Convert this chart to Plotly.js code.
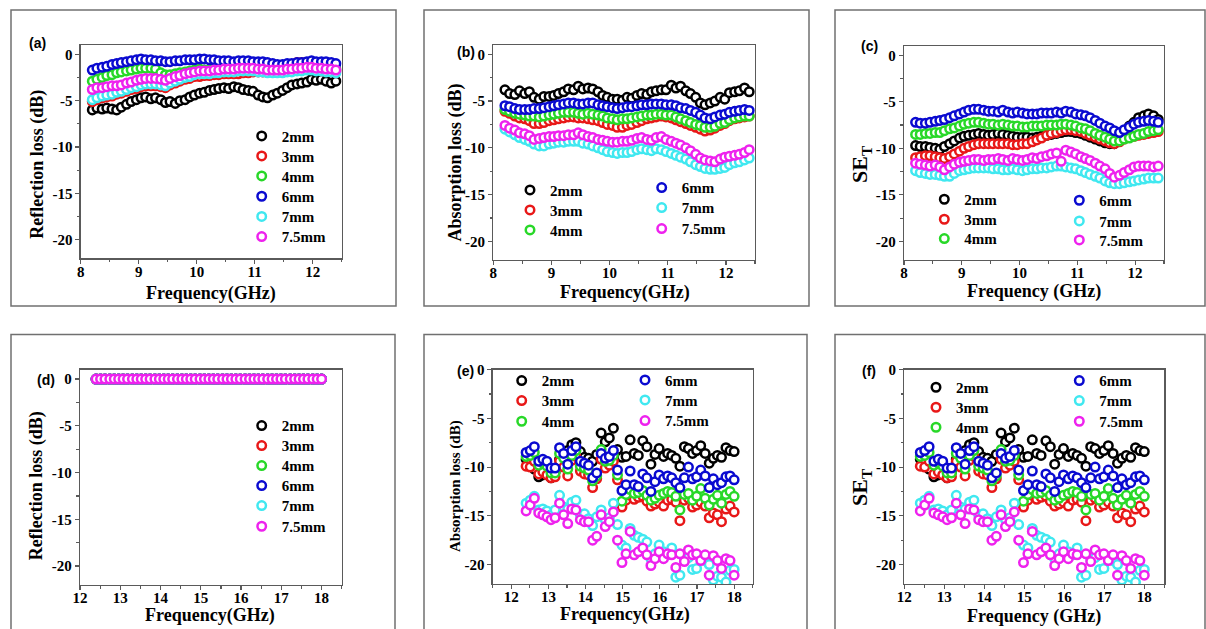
<!DOCTYPE html>
<html><head><meta charset="utf-8">
<script src="https://cdn.plot.ly/plotly-3.0.1.min.js"></script>
<style>html,body{margin:0;padding:0;background:#fff}#chart{width:1206px;height:629px}</style>
</head><body><div id="chart"></div>
<script>
const W = 1206, H = 629;

// ---------- frequencies ----------
const freqX = [8.20,8.28,8.37,8.45,8.54,8.62,8.70,8.79,8.87,8.96,9.04,9.12,9.21,9.29,9.38,9.46,9.54,9.63,9.71,9.80,9.88,9.96,10.05,10.13,10.22,10.30,10.38,10.47,10.55,10.64,10.72,10.80,10.89,10.97,11.06,11.14,11.22,11.31,11.39,11.48,11.56,11.64,11.73,11.81,11.90,11.98,12.06,12.15,12.23,12.32,12.40];
const freqKu = [12.40,12.51,12.62,12.74,12.85,12.96,13.07,13.18,13.30,13.41,13.52,13.63,13.74,13.86,13.97,14.08,14.19,14.30,14.42,14.53,14.64,14.75,14.86,14.98,15.09,15.20,15.31,15.42,15.54,15.65,15.76,15.87,15.98,16.10,16.21,16.32,16.43,16.54,16.66,16.77,16.88,16.99,17.10,17.22,17.33,17.44,17.55,17.66,17.78,17.89,18.00];

// ---------- (a) reflection loss, X band ----------
const rlX_2mm = [-6.0,-5.8,-5.9,-5.8,-5.9,-6.0,-5.7,-5.4,-5.1,-4.9,-4.7,-4.6,-4.8,-4.7,-4.9,-5.2,-5.1,-5.3,-5.0,-4.9,-4.6,-4.4,-4.2,-4.1,-3.9,-3.8,-3.7,-3.6,-3.7,-3.5,-3.6,-3.8,-3.9,-4.0,-4.4,-4.6,-4.7,-4.4,-4.2,-3.9,-3.6,-3.3,-3.2,-3.1,-3.0,-2.7,-2.8,-2.7,-2.9,-3.1,-2.9];
const rlX_3mm = [-5.1,-4.9,-4.7,-4.6,-4.5,-4.3,-4.2,-4.0,-3.8,-3.7,-3.5,-3.4,-3.4,-3.4,-3.5,-3.6,-3.3,-3.1,-2.9,-2.7,-2.6,-2.4,-2.4,-2.3,-2.3,-2.2,-2.2,-2.1,-2.1,-2.1,-2.1,-2.0,-2.0,-1.9,-1.9,-1.9,-1.9,-1.8,-1.7,-1.5,-1.3,-1.1,-0.9,-0.9,-1.1,-1.3,-1.5,-1.5,-1.6,-1.7,-1.8];
const rlX_4mm = [-2.9,-2.7,-2.5,-2.3,-2.2,-2.0,-1.9,-1.8,-1.7,-1.6,-1.5,-1.5,-1.5,-1.6,-2.0,-2.2,-2.2,-2.1,-2.0,-1.9,-1.8,-1.7,-1.6,-1.7,-1.7,-1.6,-1.6,-1.5,-1.5,-1.5,-1.4,-1.4,-1.4,-1.4,-1.5,-1.5,-1.6,-1.6,-1.6,-1.6,-1.5,-1.5,-1.4,-1.4,-1.3,-1.3,-1.4,-1.4,-1.5,-1.5,-1.6];
const rlX_6mm = [-1.7,-1.5,-1.4,-1.3,-1.1,-1.0,-0.9,-0.8,-0.7,-0.6,-0.5,-0.6,-0.6,-0.7,-0.7,-0.8,-0.8,-0.7,-0.7,-0.6,-0.6,-0.6,-0.5,-0.5,-0.6,-0.6,-0.7,-0.7,-0.7,-0.8,-0.7,-0.7,-0.7,-0.8,-0.8,-0.8,-0.9,-1.0,-1.1,-1.1,-1.0,-1.0,-0.9,-0.9,-0.8,-0.7,-0.8,-0.8,-0.8,-0.9,-1.0];
const rlX_7mm = [-4.9,-4.7,-4.5,-4.4,-4.3,-4.1,-4.0,-3.8,-3.6,-3.5,-3.3,-3.2,-3.2,-3.2,-3.3,-3.4,-3.1,-2.9,-2.7,-2.5,-2.4,-2.2,-2.1,-2.1,-2.1,-2.0,-2.0,-1.9,-1.9,-1.9,-1.8,-1.8,-1.8,-1.8,-1.9,-1.9,-2.0,-2.0,-2.0,-2.0,-1.9,-1.9,-1.8,-1.8,-1.7,-1.7,-1.8,-1.8,-1.9,-1.9,-2.0];
const rlX_75mm = [-3.8,-3.6,-3.6,-3.5,-3.4,-3.4,-3.3,-3.1,-3.0,-2.8,-2.7,-2.6,-2.6,-2.6,-2.7,-2.8,-2.6,-2.4,-2.3,-2.1,-2.0,-1.9,-1.8,-1.8,-1.8,-1.7,-1.7,-1.6,-1.6,-1.6,-1.5,-1.5,-1.5,-1.5,-1.6,-1.6,-1.7,-1.7,-1.7,-1.7,-1.6,-1.6,-1.5,-1.5,-1.4,-1.4,-1.5,-1.5,-1.6,-1.6,-1.7];

// ---------- (b) absorption loss, X band ----------
const alX_2mm = [-3.8,-4.2,-4.3,-3.9,-4.2,-4.0,-4.6,-4.8,-4.5,-4.5,-4.4,-4.2,-4.0,-3.7,-3.8,-3.4,-3.7,-3.6,-3.7,-4.0,-4.4,-4.6,-4.8,-4.8,-4.9,-4.6,-4.7,-4.4,-4.2,-4.3,-4.0,-3.9,-3.8,-3.8,-3.3,-3.6,-3.4,-3.9,-4.2,-4.6,-5.2,-5.4,-5.2,-5.0,-4.6,-4.8,-4.1,-4.0,-3.9,-3.6,-4.0];
const alX_3mm = [-6.1,-6.3,-6.6,-6.8,-6.9,-7.1,-7.4,-7.4,-7.3,-7.1,-7.0,-6.9,-6.8,-6.7,-6.7,-6.8,-6.8,-6.9,-7.0,-7.1,-7.3,-7.5,-7.6,-7.8,-7.8,-7.6,-7.5,-7.3,-7.1,-6.9,-6.8,-6.7,-6.6,-6.7,-6.8,-7.0,-7.2,-7.4,-7.6,-7.8,-8.0,-8.2,-8.1,-7.9,-7.6,-7.4,-7.1,-6.9,-6.8,-6.7,-6.6];
const alX_4mm = [-5.9,-6.1,-6.3,-6.4,-6.5,-6.6,-6.6,-6.7,-6.6,-6.5,-6.4,-6.3,-6.2,-6.2,-6.2,-6.3,-6.4,-6.3,-6.4,-6.5,-6.6,-6.8,-6.9,-7.0,-6.9,-6.9,-6.8,-6.7,-6.6,-6.5,-6.5,-6.4,-6.4,-6.5,-6.5,-6.7,-6.9,-7.1,-7.3,-7.5,-7.6,-7.8,-7.8,-7.7,-7.4,-7.3,-7.0,-6.8,-6.7,-6.6,-6.6];
const alX_6mm = [-5.5,-5.6,-5.8,-5.9,-5.9,-5.9,-5.8,-5.8,-5.7,-5.6,-5.5,-5.4,-5.3,-5.2,-5.2,-5.3,-5.3,-5.2,-5.2,-5.4,-5.5,-5.6,-5.7,-5.8,-5.7,-5.6,-5.6,-5.5,-5.4,-5.4,-5.3,-5.3,-5.3,-5.4,-5.4,-5.5,-5.7,-5.8,-6.0,-6.2,-6.5,-6.8,-6.9,-6.7,-6.5,-6.4,-6.2,-6.1,-6.0,-5.9,-6.0];
const alX_7mm = [-8.0,-8.3,-8.6,-8.9,-9.1,-9.3,-9.6,-9.8,-9.8,-9.6,-9.5,-9.4,-9.4,-9.3,-9.3,-9.3,-9.5,-9.6,-9.8,-10.0,-10.2,-10.4,-10.5,-10.6,-10.5,-10.5,-10.4,-10.2,-10.1,-10.2,-10.3,-10.1,-10.2,-10.4,-10.6,-10.8,-11.0,-11.2,-11.5,-11.8,-12.0,-12.2,-12.3,-12.3,-12.2,-12.1,-11.8,-11.6,-11.5,-11.3,-11.1];
const alX_75mm = [-7.6,-7.9,-8.1,-8.4,-8.5,-8.7,-9.1,-9.0,-8.9,-8.8,-8.8,-8.7,-8.7,-8.6,-8.6,-8.4,-8.6,-8.8,-8.9,-9.1,-9.2,-9.3,-9.4,-9.4,-9.3,-9.3,-9.2,-9.0,-8.9,-9.1,-9.2,-8.9,-8.8,-9.1,-9.3,-9.5,-9.7,-10.0,-10.3,-10.7,-11.1,-11.3,-11.4,-11.5,-11.2,-11.0,-10.9,-10.8,-10.7,-10.5,-10.2];

// ---------- (c) total shielding, X band ----------
const seX_2mm = [-9.7,-9.8,-9.8,-9.9,-10.0,-10.1,-9.8,-9.5,-9.2,-8.9,-8.7,-8.6,-8.5,-8.4,-8.5,-8.6,-8.5,-8.4,-8.5,-8.6,-8.7,-8.8,-8.8,-8.8,-8.9,-8.8,-8.7,-8.6,-8.5,-8.4,-8.3,-8.2,-8.2,-8.3,-8.4,-8.6,-8.8,-9.0,-9.2,-9.4,-9.5,-9.5,-9.0,-8.2,-7.6,-7.2,-6.7,-6.5,-6.3,-6.5,-6.9];
const seX_3mm = [-11.0,-10.9,-10.8,-10.8,-10.9,-11.0,-11.1,-10.9,-10.6,-10.3,-10.0,-9.8,-9.6,-9.5,-9.5,-9.5,-9.5,-9.5,-9.5,-9.5,-9.6,-9.6,-9.5,-9.5,-9.3,-9.1,-8.9,-8.6,-8.4,-8.3,-8.1,-8.0,-8.0,-8.1,-8.2,-8.4,-8.6,-8.8,-9.0,-9.2,-9.4,-9.5,-9.3,-9.0,-8.8,-8.7,-8.6,-8.5,-8.4,-8.3,-8.2];
const seX_4mm = [-8.5,-8.5,-8.4,-8.4,-8.3,-8.3,-8.1,-7.9,-7.8,-7.6,-7.4,-7.3,-7.2,-7.2,-7.3,-7.4,-7.4,-7.5,-7.4,-7.5,-7.6,-7.6,-7.7,-7.7,-7.6,-7.6,-7.6,-7.5,-7.5,-7.5,-7.4,-7.4,-7.5,-7.6,-7.8,-7.9,-8.1,-8.4,-8.6,-8.8,-9.0,-9.2,-9.2,-9.0,-8.9,-8.7,-8.5,-8.4,-8.2,-8.1,-8.0];
const seX_6mm = [-7.2,-7.3,-7.3,-7.2,-7.1,-7.0,-6.9,-6.7,-6.5,-6.3,-6.1,-5.9,-5.8,-5.8,-5.9,-6.0,-6.0,-6.1,-5.9,-6.1,-6.2,-6.1,-6.2,-6.3,-6.3,-6.3,-6.2,-6.2,-6.2,-6.1,-6.2,-6.0,-6.1,-6.3,-6.4,-6.5,-6.7,-7.0,-7.3,-7.6,-7.8,-8.1,-8.3,-8.0,-7.7,-7.4,-7.2,-7.1,-7.0,-7.1,-7.2];
const seX_7mm = [-12.4,-12.6,-12.7,-12.8,-12.8,-12.9,-13.0,-13.0,-12.7,-12.4,-12.3,-12.2,-12.1,-12.1,-12.1,-12.1,-12.2,-12.2,-12.3,-12.3,-12.2,-12.3,-12.4,-12.3,-12.2,-12.2,-12.1,-12.1,-12.0,-11.9,-11.9,-12.0,-12.1,-12.2,-12.4,-12.6,-12.8,-13.0,-13.2,-13.5,-13.7,-13.8,-13.8,-13.7,-13.6,-13.5,-13.4,-13.3,-13.2,-13.2,-13.2];
const seX_75mm = [-11.6,-11.7,-11.8,-11.9,-11.8,-12.0,-12.3,-12.0,-11.7,-11.5,-11.4,-11.3,-11.2,-11.2,-11.3,-11.2,-11.2,-11.1,-11.2,-11.3,-11.1,-11.2,-11.3,-11.2,-11.0,-11.1,-10.9,-10.8,-10.6,-10.5,-11.4,-10.2,-10.4,-10.6,-10.9,-11.1,-11.3,-11.6,-11.9,-12.2,-12.7,-13.1,-12.9,-12.6,-12.3,-12.0,-11.9,-11.9,-11.9,-12.0,-11.9];

// ---------- (d) reflection loss, Ku band ----------
const rlKu_2mm = [0,0,0,0,0,0,0,0,0,0,0,0,0,0,0,0,0,0,0,0,0,0,0,0,0,0,0,0,0,0,0,0,0,0,0,0,0,0,0,0,0,0,0,0,0,0,0,0,0,0,0];
const rlKu_3mm = [0,0,0,0,0,0,0,0,0,0,0,0,0,0,0,0,0,0,0,0,0,0,0,0,0,0,0,0,0,0,0,0,0,0,0,0,0,0,0,0,0,0,0,0,0,0,0,0,0,0,0];
const rlKu_4mm = [0,0,0,0,0,0,0,0,0,0,0,0,0,0,0,0,0,0,0,0,0,0,0,0,0,0,0,0,0,0,0,0,0,0,0,0,0,0,0,0,0,0,0,0,0,0,0,0,0,0,0];
const rlKu_6mm = [0,0,0,0,0,0,0,0,0,0,0,0,0,0,0,0,0,0,0,0,0,0,0,0,0,0,0,0,0,0,0,0,0,0,0,0,0,0,0,0,0,0,0,0,0,0,0,0,0,0,0];
const rlKu_7mm = [0,0,0,0,0,0,0,0,0,0,0,0,0,0,0,0,0,0,0,0,0,0,0,0,0,0,0,0,0,0,0,0,0,0,0,0,0,0,0,0,0,0,0,0,0,0,0,0,0,0,0];
const rlKu_75mm = [0,0,0,0,0,0,0,0,0,0,0,0,0,0,0,0,0,0,0,0,0,0,0,0,0,0,0,0,0,0,0,0,0,0,0,0,0,0,0,0,0,0,0,0,0,0,0,0,0,0,0];

// ---------- (e) absorption loss and (f) total shielding, Ku band ----------
const alKu_2mm = [-9.2,-9.5,-10.2,-11.0,-10.8,-10.6,-11.1,-10.5,-9.2,-8.8,-8.3,-7.7,-7.5,-8.4,-9.0,-9.1,-9.4,-8.7,-6.5,-7.4,-7.0,-6.0,-8.2,-9.0,-8.9,-7.2,-8.6,-8.8,-7.3,-7.9,-9.7,-8.7,-8.1,-8.9,-8.6,-8.8,-9.1,-9.9,-7.9,-8.1,-8.6,-8.3,-7.8,-8.6,-9.6,-9.1,-8.8,-9.0,-8.0,-8.3,-8.4];
const alKu_3mm = [-9.9,-10.0,-9.4,-10.7,-10.5,-10.8,-11.1,-11.0,-9.4,-10.0,-10.9,-9.3,-8.9,-10.4,-10.7,-10.8,-12.1,-11.2,-9.2,-10.1,-9.8,-9.4,-11.3,-14.1,-13.4,-12.9,-13.3,-13.1,-13.0,-13.5,-14.0,-13.8,-13.6,-14.0,-13.4,-13.3,-13.6,-15.5,-13.4,-13.2,-14.1,-13.9,-13.6,-14.0,-15.2,-14.7,-14.9,-15.6,-14.3,-14.0,-14.6];
const alKu_4mm = [-8.9,-8.8,-8.5,-9.8,-9.6,-9.9,-10.6,-10.6,-8.6,-9.1,-10.2,-8.8,-8.3,-9.9,-10.1,-10.3,-11.4,-10.9,-8.2,-9.4,-9.3,-8.8,-10.8,-13.5,-12.8,-12.3,-12.7,-12.6,-12.4,-12.9,-13.4,-13.2,-12.9,-12.7,-12.5,-12.6,-13.0,-14.4,-12.8,-12.7,-13.4,-13.0,-12.2,-13.2,-13.9,-13.3,-12.9,-13.7,-12.8,-12.5,-13.0];
const alKu_6mm = [-8.5,-8.3,-7.9,-9.4,-9.2,-9.4,-10.1,-10.1,-8.0,-8.6,-9.7,-8.3,-7.9,-9.4,-9.6,-9.8,-11.1,-10.6,-8.6,-9.1,-8.9,-8.3,-10.3,-12.4,-11.8,-10.4,-11.8,-12.0,-10.7,-11.1,-12.5,-11.5,-10.8,-11.2,-10.9,-11.1,-11.6,-12.1,-11.1,-10.0,-11.2,-11.0,-10.3,-10.9,-12.1,-11.2,-11.8,-11.6,-11.0,-10.9,-11.3];
const alKu_7mm = [-13.7,-13.4,-13.0,-14.4,-14.3,-14.5,-14.9,-14.4,-12.9,-14.1,-14.3,-13.6,-13.4,-14.9,-14.8,-15.3,-16.0,-15.1,-14.4,-15.4,-15.2,-13.7,-15.9,-18.0,-18.3,-16.3,-17.0,-17.2,-17.4,-17.7,-19.4,-18.9,-18.0,-18.7,-19.0,-18.3,-21.3,-21.1,-19.4,-19.3,-20.5,-20.4,-19.2,-19.6,-20.0,-21.6,-21.2,-21.3,-21.8,-20.6,-20.5];
const alKu_75mm = [-14.5,-13.9,-13.2,-14.7,-14.9,-15.1,-15.4,-15.2,-13.7,-14.9,-15.8,-14.3,-14.4,-15.4,-15.6,-15.6,-17.5,-17.1,-14.9,-16.1,-15.6,-14.6,-17.5,-19.8,-18.9,-16.6,-19.0,-18.7,-18.3,-19.0,-20.1,-19.4,-18.7,-19.4,-18.9,-19.0,-20.3,-18.9,-19.7,-18.5,-19.0,-18.9,-19.6,-19.0,-21.1,-19.1,-19.6,-20.4,-19.4,-19.6,-21.1];

// ---------- labels ----------
const thicknessNames = ['2mm','3mm','4mm','6mm','7mm','7.5mm'];
const seriesColors = ['#000000','#e81818','#28d828','#0a0ad0','#40e8f0','#ee22ee'];
const yTickVals = [0,-5,-10,-15,-20];
const yTickText = ['0','-5','-10','-15','-20'];
const xTicksX = [8,9,10,11,12];
const xTicksKu = [12,13,14,15,16,17,18];
const panelLetters = ['(a)','(b)','(c)','(d)','(e)','(f)'];
const yTitles = ['Reflection loss (dB)','Absorption loss (dB)','SE<sub>T</sub>','Reflection loss (dB)','Absorption loss (dB)','SE<sub>T</sub>'];
const xTitles = ['Frequency(GHz)','Frequency(GHz)','Frequency (GHz)','Frequency(GHz)','Frequency(GHz)','Frequency (GHz)'];

const SERIF = 'Liberation Serif, Times New Roman, serif';
const SANS = 'Liberation Sans, Arial, sans-serif';
function px(x){ return x / W; }
function py(y){ return 1 - y / H; }

// layout geometry (pixels); leg = legend symbol centre for each series
const panels = [
  {x: freqX,  ys: [rlX_2mm,rlX_3mm,rlX_4mm,rlX_6mm,rlX_7mm,rlX_75mm], box:[80.7,341.7,45,258.3], xr:[8,12.5], yr:[-22,1], xt:xTicksX,
   leg:[[261.7,136.7],[261.7,156.7],[261.7,176.7],[261.7,197],[261.7,217.2],[261.7,237.3]], frame:[11,396,10,306],
   lab:[37,43], yt:{x:36.7,y:164,size:18}, xt2:{x:211,y:293.5}},
  {x: freqX,  ys: [alX_2mm,alX_3mm,alX_4mm,alX_6mm,alX_7mm,alX_75mm], box:[493.3,755,45,260], xr:[8,12.5], yr:[-22,1], xt:xTicksX,
   leg:[[530,190.7],[530,210.7],[530,230.7],[661.7,188.3],[661.7,208.3],[661.7,229.3]], frame:[424,809,10,306],
   lab:[466,52], yt:{x:455,y:162.5,size:18}, xt2:{x:625,y:292.5}},
  {x: freqX,  ys: [seX_2mm,seX_3mm,seX_4mm,seX_6mm,seX_7mm,seX_75mm], box:[904,1164,46,260], xr:[8,12.5], yr:[-22,1], xt:xTicksX,
   leg:[[944.3,200],[944.3,220],[944.3,239.3],[1079.3,201],[1079.3,221.7],[1079.3,240.7]], frame:[835,1205,10,306],
   lab:[869.5,46], yt:{x:861,y:164,size:22}, xt2:{x:1034,y:291.5}},
  {x: freqKu, ys: [rlKu_2mm,rlKu_3mm,rlKu_4mm,rlKu_6mm,rlKu_7mm,rlKu_75mm], box:[80,341.7,369.7,584.7], xr:[12,18.5], yr:[-22,1], xt:xTicksKu,
   leg:[[261.7,426.3],[261.7,446.3],[261.7,466.3],[261.7,486.3],[261.7,506.3],[261.7,527]], frame:[11,395,334.5,640],
   lab:[45.5,380], yt:{x:36.7,y:485.5,size:18}, xt2:{x:210,y:615.5}},
  {x: freqKu, ys: [alKu_2mm,alKu_3mm,alKu_4mm,alKu_6mm,alKu_7mm,alKu_75mm], box:[492.7,752.7,369.7,584], xr:[11.5,18.5], yr:[-22,0], xt:xTicksKu,
   leg:[[521.7,381.3],[521.7,401.3],[521.7,422],[645,380.7],[645,400.7],[645,421.3]], frame:[424,807,334.5,640],
   lab:[465,371], yt:{x:455,y:486,size:15}, xt2:{x:625,y:614.5}},
  {x: freqKu, ys: [alKu_2mm,alKu_3mm,alKu_4mm,alKu_6mm,alKu_7mm,alKu_75mm], box:[904.3,1164.3,369.7,584], xr:[12,18.5], yr:[-22,0], xt:xTicksKu,
   leg:[[936,388],[936,408],[936,428],[1079.3,381.3],[1079.3,401.3],[1079.3,422]], frame:[835,1205,334.5,640],
   lab:[868.5,371], yt:{x:861,y:487,size:22}, xt2:{x:1034,y:616.5}}
];

const traces = [];
const layout = {
  width: W, height: H, margin: {l:0,r:0,t:0,b:0},
  paper_bgcolor: '#ffffff', plot_bgcolor: '#ffffff',
  showlegend: true, shapes: [], annotations: []
};

const axisCommon = {
  showline: true, linecolor: '#5a5a5a', linewidth: 1.3, mirror: true,
  ticks: 'outside', ticklen: 4, tickwidth: 1.2, tickcolor: '#5a5a5a',
  showgrid: false, zeroline: false, fixedrange: true,
  tickfont: {family: SERIF, size: 15, weight: 'bold', color: '#000'}
};

let legendCount = 0;
panels.forEach((p, i) => {
  const suf = i === 0 ? '' : String(i + 1);
  p.ys.forEach((ys, s) => {
    legendCount += 1;
    const id = legendCount === 1 ? 'legend' : 'legend' + legendCount;
    const L = p.leg[s];
    layout[id] = {
      x: px(L[0] - 20), y: py(L[1] - 17), xanchor: 'left', yanchor: 'top',
      bgcolor: 'rgba(0,0,0,0)', borderwidth: 0, itemwidth: 30,
      font: {family: SERIF, size: 15, weight: 'bold', color: '#000'}
    };
    traces.push({
      type: 'scatter', mode: 'markers', x: p.x, y: ys, name: thicknessNames[s],
      xaxis: 'x' + suf, yaxis: 'y' + suf, legend: id, showlegend: true,
      hoverinfo: 'skip',
      marker: {symbol: 'circle', size: 8.5, color: '#ffffff', line: {color: seriesColors[s], width: 2.5}}
    });
  });
  layout['xaxis' + suf] = Object.assign({}, axisCommon, {
    domain: [px(p.box[0]), px(p.box[1])], range: p.xr, anchor: 'y' + suf,
    tickmode: 'array', tickvals: p.xt, ticktext: p.xt.map(String),
    ticklabelstandoff: -5,
    minor: {ticks: 'outside', ticklen: 2.5, tickcolor: '#5a5a5a', tickmode: 'linear', tick0: 0, dtick: 0.5}
  });
  layout['yaxis' + suf] = Object.assign({}, axisCommon, {
    domain: [py(p.box[3]), py(p.box[2])], range: p.yr, anchor: 'x' + suf,
    tickmode: 'array', tickvals: yTickVals, ticktext: yTickText,
    minor: {ticks: 'outside', ticklen: 2.5, tickcolor: '#5a5a5a', tickmode: 'linear', tick0: 0, dtick: 2.5}
  });
  // outer frame of each sub-figure
  layout.shapes.push({type: 'rect', xref: 'paper', yref: 'paper', layer: 'below',
    x0: px(p.frame[0]), x1: px(p.frame[1]), y0: py(p.frame[3]), y1: py(p.frame[2]),
    line: {color: '#707070', width: 1.5}, fillcolor: 'rgba(0,0,0,0)'});
  // panel letter
  layout.annotations.push({xref: 'paper', yref: 'paper', x: px(p.lab[0]), y: py(p.lab[1]),
    xanchor: 'center', yanchor: 'middle', showarrow: false, text: panelLetters[i],
    font: {family: SANS, size: 14, weight: 'bold', color: '#000'}});
  // y title
  layout.annotations.push({xref: 'paper', yref: 'paper', x: px(p.yt.x), y: py(p.yt.y),
    xanchor: 'center', yanchor: 'middle', showarrow: false, textangle: -90, text: yTitles[i],
    font: {family: SERIF, size: p.yt.size, weight: 'bold', color: '#000'}});
  // x title
  layout.annotations.push({xref: 'paper', yref: 'paper', x: px(p.xt2.x), y: py(p.xt2.y),
    xanchor: 'center', yanchor: 'middle', showarrow: false, text: xTitles[i],
    font: {family: SERIF, size: 18, weight: 'bold', color: '#000'}});
});

Plotly.newPlot('chart', traces, layout, {staticPlot: true, displayModeBar: false});
</script>
</body></html>
